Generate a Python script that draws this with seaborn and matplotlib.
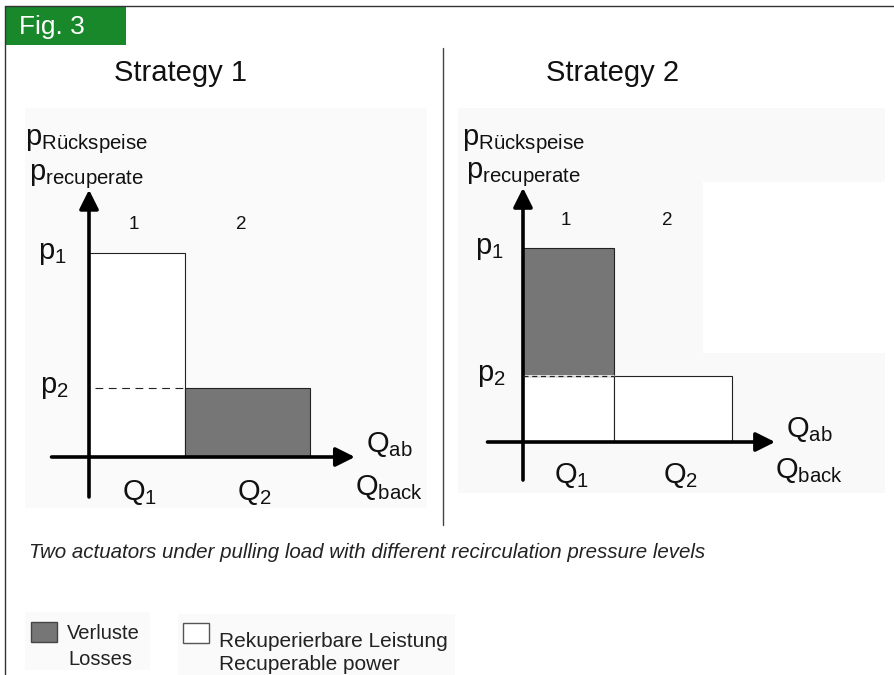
# %%
# === Load modules ===
import numpy as np
import seaborn as sns
import matplotlib.pyplot as plt
from matplotlib.patches import Rectangle

# %%
# === Data ===
FLOWS      = ['Q1', 'Q2']
Q_WIDTH    = [1.0, 1.3]          # Q1, Q2 (flow widths)
P_LEVEL    = [1.0, 0.34]         # p1, p2 (pressure levels)

# strategy 1: flow 1 at p1 (recuperable), flow 2 at p2 (losses)
S1_BOTTOM  = [0.0, 0.0]
S1_TOP     = [P_LEVEL[0], P_LEVEL[1]]
S1_KIND    = ['recup', 'loss']

# strategy 2: both flows recuperate at p2, flow 1 loses p1 - p2
S2_FLOW    = [0, 1, 0]
S2_BOTTOM  = [0.0, 0.0, P_LEVEL[1]]
S2_TOP     = [P_LEVEL[1], P_LEVEL[1], P_LEVEL[0]]
S2_KIND    = ['recup', 'recup', 'loss']

TITLES     = ['Strategy 1', 'Strategy 2']
LEGEND_TXT = ['Verluste\nLosses', 'Rekuperierbare Leistung\nRecuperable power']
CAPTION    = 'Two actuators under pulling load with different recirculation pressure levels'

# === Style ===
W, H       = 894, 675
GREEN      = '#18882b'
LOSS_COL   = '#767676'
EDGE_COL   = '#222222'
COLORS     = {'loss': LOSS_COL, 'recup': 'white'}
XLIM       = (-0.6, 3.6)
YLIM       = (-0.3, 1.7)

sns.set_theme(style='white')
plt.rcParams['font.family'] = ['Liberation Sans', 'DejaVu Sans']
plt.rcParams['mathtext.fontset'] = 'custom'
plt.rcParams['mathtext.rm'] = 'Liberation Sans'
plt.rcParams['mathtext.it'] = 'Liberation Sans:italic'

fig = plt.figure(figsize=(W / 100, H / 100), dpi=100)

# background axes in pixel coordinates
bg = fig.add_axes([0, 0, 1, 1])
bg.set_xlim(0, W)
bg.set_ylim(H, 0)
bg.axis('off')

# faint scan backgrounds
bg.add_patch(Rectangle((25, 108), 402, 400, color='#fafafa', lw=0))
bg.add_patch(Rectangle((458, 108), 427, 385, color='#f9f9f9', lw=0))
bg.add_patch(Rectangle((703, 182), 182, 171, color='white', lw=0))
bg.add_patch(Rectangle((25, 612), 125, 58, color='#fafafa', lw=0))
bg.add_patch(Rectangle((178, 614), 277, 61, color='#fafafa', lw=0))

# frame, fig label, divider
bg.plot([5, 5], [6, H], color='#333333', lw=1)
bg.plot([5, W], [6, 6], color='#333333', lw=1)
bg.add_patch(Rectangle((5, 7), 121, 38, color=GREEN, lw=0))
bg.text(19, 27, 'Fig. 3', color='white', fontsize=19, va='center', ha='left')
bg.plot([443, 443], [48, 525], color='#444444', lw=1)

bg.text(180, 73, TITLES[0], fontsize=21, ha='center', va='center', color='#111111')
bg.text(613, 73, TITLES[1], fontsize=21, ha='center', va='center', color='#111111')
bg.text(29, 552, CAPTION, fontsize=14.8, style='italic', ha='left', va='center',
        color='#222222')

# legend
bg.add_patch(Rectangle((31, 622), 26, 20, facecolor=LOSS_COL, edgecolor='#444444', lw=1))
bg.add_patch(Rectangle((183, 623), 26, 20, facecolor='white', edgecolor='#555555', lw=1))
bg.text(67, 639, LEGEND_TXT[0].split('\n')[0], fontsize=14.5, va='baseline', color='#222222')
bg.text(68, 665, LEGEND_TXT[0].split('\n')[1], fontsize=14.5, va='baseline', color='#222222')
bg.text(219, 647, LEGEND_TXT[1].split('\n')[0], fontsize=15, va='baseline', color='#222222')
bg.text(219, 670, LEGEND_TXT[1].split('\n')[1], fontsize=15, va='baseline', color='#222222')


def panel_axes(origin, sx, sy):
    x0 = origin[0] + XLIM[0] * sx
    x1 = origin[0] + XLIM[1] * sx
    ytop = origin[1] - YLIM[1] * sy
    ybot = origin[1] - YLIM[0] * sy
    ax = fig.add_axes([x0 / W, (H - ybot) / H, (x1 - x0) / W, (ybot - ytop) / H])
    ax.set_xlim(*XLIM)
    ax.set_ylim(*YLIM)
    ax.axis('off')
    ax.patch.set_visible(False)
    return ax


def draw_axes_labels(ax):
    arrow = dict(arrowstyle='-|>,head_length=0.4,head_width=0.2', color='black',
                 lw=2.6, mutation_scale=29, shrinkA=0, shrinkB=0)
    ax.annotate('', xy=(0, 1.31), xytext=(0, -0.196), arrowprops=arrow)
    ax.annotate('', xy=(2.77, 0), xytext=(-0.39, 0), arrowprops=arrow)

    labels = [
        ('p', 'Rückspeise', -0.67, 1.53),
        ('p', 'recuperate', -0.625, 1.358),
        ('p', '1', -0.53, 0.97),
        ('p', '2', -0.51, 0.314),
        ('Q', '1', 0.34, -0.211),
        ('Q', '2', 1.54, -0.211),
        ('Q', 'ab', 2.885, 0.025),
        ('Q', 'back', 2.77, -0.186),
    ]
    for main, sub, xm, ym in labels:
        ax.text(xm, ym, main + r'$_{\mathregular{' + sub + '}}$', fontsize=21,
                ha='left', va='baseline', color='#111111')

    # flow numbers above each bar
    lefts = np.concatenate([[0], np.cumsum(Q_WIDTH)[:-1]])
    for i, (l, w) in enumerate(zip(lefts, Q_WIDTH)):
        ax.text(l + w / 2 - 0.03 * (i + 1), 1.12, str(i + 1), fontsize=13.5,
                ha='center', va='baseline', color='#111111')
    return lefts


# %%
# === Strategy 1 ===
ax1 = panel_axes((89, 457), 96, 204)
lefts = draw_axes_labels(ax1)
ax1.bar(lefts, np.array(S1_TOP) - np.array(S1_BOTTOM), width=Q_WIDTH, bottom=S1_BOTTOM,
        align='edge', color=[COLORS[k] for k in S1_KIND], edgecolor=EDGE_COL, lw=0.8, zorder=1)
ax1.plot([0.06, Q_WIDTH[0]], [P_LEVEL[1], P_LEVEL[1]], color=EDGE_COL, lw=0.8,
         dashes=(7, 5), zorder=2)

# %%
# === Strategy 2 ===
ax2 = panel_axes((523, 442), 91, 194)
lefts = draw_axes_labels(ax2)
ax2.bar(lefts[S2_FLOW], np.array(S2_TOP) - np.array(S2_BOTTOM),
        width=np.array(Q_WIDTH)[S2_FLOW], bottom=S2_BOTTOM, align='edge',
        color=[COLORS[k] for k in S2_KIND], edgecolor=EDGE_COL, lw=0.8, zorder=1)
ax2.plot([0, Q_WIDTH[0]], [P_LEVEL[1], P_LEVEL[1]], color='white', lw=1.2, zorder=2)
ax2.plot([0, Q_WIDTH[0]], [P_LEVEL[1], P_LEVEL[1]], color=EDGE_COL, lw=0.9,
         dashes=(4, 3), zorder=3)

fig.savefig('out.png', dpi=100)
